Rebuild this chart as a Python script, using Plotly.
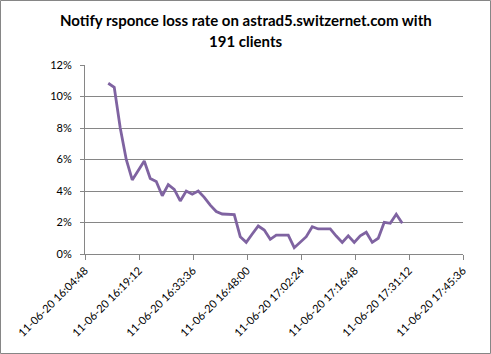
import plotly.graph_objects as go

times = [
    "16:11:00", "16:12:36", "16:14:12", "16:15:48", "16:17:24", "16:19:00", "16:20:36", "16:22:12",
    "16:23:48", "16:25:24", "16:27:00", "16:28:36", "16:30:12", "16:31:48", "16:33:24", "16:35:00",
    "16:36:36", "16:38:12", "16:39:48", "16:41:24", "16:43:00", "16:44:36", "16:46:12", "16:47:48",
    "16:49:24", "16:51:00", "16:52:36", "16:54:12", "16:55:48", "16:57:24", "16:59:00", "17:00:36",
    "17:02:12", "17:03:48", "17:05:24", "17:07:00", "17:08:36", "17:10:12", "17:11:48", "17:13:24",
    "17:15:00", "17:16:36", "17:18:12", "17:19:48", "17:21:24", "17:23:00", "17:24:36", "17:26:12",
    "17:27:48", "17:29:24",
]
loss_rate = [
    10.84, 10.58, 8.0, 6.0, 4.7, 5.3, 5.9, 4.8, 4.6, 3.7, 4.4, 4.1, 3.37, 4.0, 3.8, 4.0,
    3.6, 3.1, 2.7, 2.54, 2.54, 2.5, 1.1, 0.74, 1.27, 1.78, 1.52, 0.93, 1.2, 1.2, 1.2, 0.4,
    0.72, 1.1, 1.73, 1.59, 1.59, 1.59, 1.14, 0.74, 1.16, 0.74, 1.16, 1.38, 0.74, 1.0,
    2.01, 1.95, 2.52, 1.95,
]
tick_times = ["16:04:48", "16:19:12", "16:33:36", "16:48:00", "17:02:24", "17:16:48", "17:31:12", "17:45:36"]
tick_labels = ["11-06-20 " + t for t in tick_times]
y_ticks = [0, 2, 4, 6, 8, 10, 12]
y_labels = [f"{v}%" for v in y_ticks]
title_lines = ["Notify rsponce loss rate on astrad5.switzernet.com with", "191 clients"]

date = "2011-06-20 "
x = [date + t for t in times]
y = [v / 100 for v in loss_rate]

FONT = "Lato"
GRAY = "#868686"

fig = go.Figure(go.Scatter(
    x=x, y=y, mode="lines",
    line=dict(color="#7F63A1", width=2.8),
    hoverinfo="skip",
))

W, H = 491, 354
L, R, T, B = 85, 28, 65, 100
pw, ph = W - L - R, H - T - B

annotations = [
    dict(
        text=line, xref="paper", yref="paper",
        x=(W / 2 - L) / pw, y=1 + (T - cy) / ph,
        xanchor="center", yanchor="middle", showarrow=False,
        font=dict(family=FONT, size=15, color="black", weight="bold"),
    )
    for line, cy in zip(title_lines, [20, 41])
]

fig.update_layout(
    width=W, height=H,
    margin=dict(l=L, r=R, t=T, b=B),
    paper_bgcolor="white", plot_bgcolor="white",
    showlegend=False,
    font=dict(family=FONT, size=11, color="black"),
    annotations=annotations,
    xaxis=dict(
        type="date",
        range=[date + tick_times[0], date + tick_times[-1]],
        tickvals=[date + t for t in tick_times],
        ticktext=tick_labels,
        tickangle=-45,
        ticks="outside", ticklen=5, tickcolor=GRAY, tickwidth=1,
        showline=True, linecolor=GRAY, linewidth=1,
        showgrid=False, zeroline=False,
        tickfont=dict(family=FONT, size=11),
        fixedrange=True,
    ),
    yaxis=dict(
        range=[0, 0.12],
        tickvals=[v / 100 for v in y_ticks],
        ticktext=y_labels,
        ticks="outside", ticklen=4, tickcolor=GRAY, tickwidth=1,
        ticklabelstandoff=6,
        showline=True, linecolor=GRAY, linewidth=1,
        showgrid=True, gridcolor=GRAY, gridwidth=1,
        zeroline=False,
        tickfont=dict(family=FONT, size=11),
        fixedrange=True,
    ),
    shapes=[dict(
        type="rect", xref="paper", yref="paper",
        x0=(-L + 0.5) / pw, x1=1 + (R - 0.5) / pw,
        y0=(-B + 0.5) / ph, y1=1 + (T - 0.5) / ph,
        line=dict(color=GRAY, width=1), fillcolor="rgba(0,0,0,0)",
    )],
)

fig.write_html("out.html")
